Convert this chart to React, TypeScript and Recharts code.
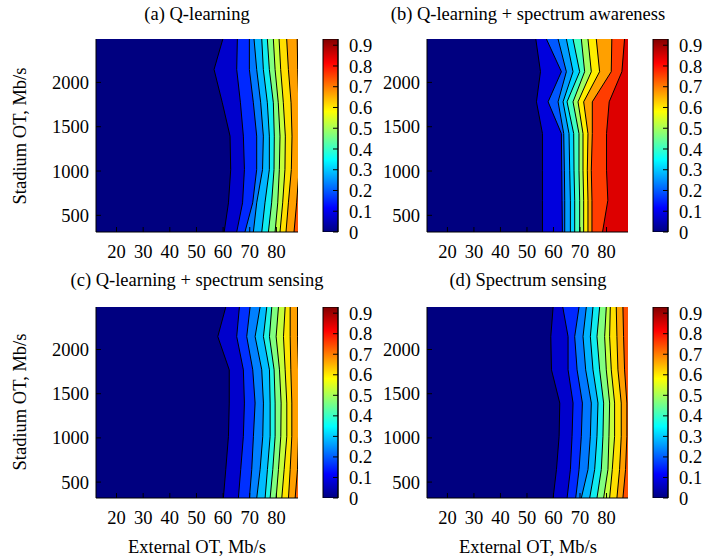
import React from 'react';
import { ComposedChart, Area, Bar, XAxis, YAxis, CartesianGrid } from 'recharts';

// axes
const externalTicks = [20, 30, 40, 50, 60, 70, 80];
const stadiumTicks = [500, 1000, 1500, 2000];
const colorTicks = [0, 0.1, 0.2, 0.3, 0.4, 0.5, 0.6, 0.7, 0.8, 0.9];
const externalRange = [12.3, 88.1];
const colorMax = 0.93;

// Stadium OT values at which the contour positions were read (top -> bottom)
const stadiumRowsTop = [2490, 2146, 1770, 1394, 1017, 641, 312];
const stadiumRowsAware = [2490, 2121, 1781, 1423, 1009, 670, 312];
const stadiumRowsBottom = [2481, 2146, 1770, 1394, 1018, 642, 320];

// External OT position of each contour line, one list per line (left -> right)
const qLearningContours = [
  [59.9, 56.6, 59.7, 62.6, 62.85, 62.0, 60.4],
  [65.35, 65.1, 66.5, 67.6, 68.0, 67.3, 65.1],
  [69.85, 69.85, 71.35, 72.6, 72.6, 71.1, 68.2],
  [71.6, 72.6, 74.1, 75.1, 74.8, 72.6, 71.35],
  [74.5, 75.1, 76.6, 77.35, 77.35, 75.7, 74.5],
  [76.6, 77.35, 78.85, 79.2, 79.1, 78.2, 77.0],
  [78.85, 79.5, 80.7, 81.35, 81.1, 80.5, 79.5],
  [81.0, 81.6, 82.6, 83.35, 83.2, 82.35, 81.35],
  [83.85, 84.5, 85.5, 85.85, 85.6, 84.5, 83.6],
  [87.8, 88.0, 88.4, 88.5, 88.5, 87.6, 86.6],
];

const awarenessContours = [
  [53.33, 55.09, 53.58, 55.84, 55.84, 55.84, 55.84],
  [57.34, 62.98, 57.97, 62.98, 63.11, 63.23, 63.36],
  [61.73, 64.86, 61.73, 63.86, 64.11, 64.24, 64.24],
  [64.86, 67.37, 63.61, 65.86, 66.12, 66.37, 66.37],
  [67.37, 69.87, 65.11, 67.62, 67.74, 68.0, 68.0],
  [70.5, 71.75, 67.37, 69.62, 69.62, 69.87, 69.87],
  [73.0, 74.26, 69.25, 71.13, 71.13, 71.38, 71.38],
  [76.14, 77.39, 71.38, 73.0, 72.76, 73.0, 73.0],
  [82.0, 81.78, 74.64, 74.64, 74.26, 74.51, 74.51],
  [86.8, 85.8, 81.0, 80.0, 80.0, 80.5, 78.5],
];

const qSensingContours = [
  [61.0, 58.0, 62.3, 62.3, 62.0, 61.0, 60.1],
  [66.11, 65.1, 67.6, 67.99, 67.6, 66.6, 65.73],
  [70.12, 68.86, 71.12, 72.0, 71.37, 70.74, 69.87],
  [73.88, 72.0, 74.5, 75.13, 74.88, 73.88, 72.62],
  [76.38, 75.13, 77.39, 77.64, 77.64, 76.63, 75.76],
  [78.26, 77.39, 79.14, 79.52, 79.52, 78.64, 77.64],
  [80.77, 79.89, 81.15, 81.77, 81.65, 80.77, 79.89],
  [83.28, 82.65, 83.28, 83.9, 83.9, 82.9, 82.02],
  [85.16, 85.16, 85.41, 85.78, 85.78, 85.16, 84.53],
  [87.91, 87.91, 88.29, 88.29, 88.29, 87.91, 87.03],
];

const sensingContours = [
  [59.86, 58.99, 59.24, 62.37, 62.12, 61.12, 59.86],
  [63.5, 65.5, 65.5, 67.38, 67.0, 66.38, 65.13],
  [69.64, 68.0, 68.9, 70.9, 70.5, 69.64, 68.38],
  [72.39, 71.14, 72.14, 74.27, 73.9, 73.02, 70.5],
  [74.9, 73.9, 74.9, 76.78, 76.4, 75.53, 73.65],
  [77.41, 76.4, 77.41, 78.91, 78.66, 78.03, 76.4],
  [79.91, 79.29, 79.91, 81.17, 80.92, 80.54, 78.91],
  [81.42, 81.17, 81.79, 83.05, 83.05, 82.17, 81.17],
  [83.67, 83.92, 84.3, 85.55, 85.55, 84.92, 83.92],
  [86.18, 86.43, 86.8, 87.68, 87.68, 87.18, 86.18],
];

// fill of each band, left -> right
const bandsA = ['#000080', '#0000cc', '#0028ff', '#0078ff', '#00b4ff', '#10ecf0', '#80ff80', '#c4ff3c', '#ffe000', '#ffa000', '#ff5000'];
const bandsB = ['#000080', '#0000dd', '#0058ff', '#009cff', '#00d4ff', '#40ffc0', '#a0ff60', '#ffee00', '#ffa000', '#ff3c00', '#dd0000'];
const bandsC = ['#000080', '#0000cc', '#0030ff', '#0080ff', '#00bcff', '#20f4e4', '#80ff80', '#c4ff3c', '#ffe400', '#ffa000', '#ff6000'];

const jet = [
  [0, '#000080'],
  [0.125, '#0000ff'],
  [0.375, '#00ffff'],
  [0.625, '#ffff00'],
  [0.875, '#ff0000'],
  [1, '#800000'],
];

const FONT = 18.5;
const tickStyle = { fontSize: FONT, fill: '#000' };

function Text({ x, y, children, rotate }: any) {
  return (
    <div
      style={{
        position: 'absolute',
        left: x,
        top: y,
        transform: `translate(-50%, -50%)${rotate ? ' rotate(-90deg)' : ''}`,
        whiteSpace: 'nowrap',
        fontSize: FONT,
        lineHeight: 1,
      }}
    >
      {children}
    </div>
  );
}

function Panel({ plot, rows, contours, colors, yRange }: any) {
  const YW = 60;
  const XH = 40;
  const PAD = 5;
  const w = plot.x1 - plot.x0;
  const h = plot.y1 - plot.y0;
  const data = rows.map((y: number, i: number) => {
    const row: any = { y };
    contours.forEach((c: number[], k: number) => {
      row['c' + k] = c[i];
    });
    return row;
  });
  const order = contours.map((_: any, k: number) => contours.length - 1 - k);

  return (
    <div style={{ position: 'absolute', left: plot.x0 - YW, top: plot.y0 - PAD }}>
      <ComposedChart
        layout="vertical"
        width={YW + w + PAD}
        height={PAD + h + XH}
        data={data}
        margin={{ top: PAD, right: PAD, bottom: 0, left: 0 }}
      >
        <CartesianGrid fill={colors[colors.length - 1]} fillOpacity={1} horizontal={false} vertical={false} />
        {order.map((k: number) => (
          <Area
            key={k}
            dataKey={'c' + k}
            type="linear"
            fill={colors[k]}
            fillOpacity={1}
            stroke="#000"
            strokeWidth={1}
            dot={false}
            activeDot={false}
            isAnimationActive={false}
          />
        ))}
        <XAxis
          type="number"
          domain={externalRange}
          allowDataOverflow
          ticks={externalTicks}
          interval={0}
          tickSize={-5}
          tickMargin={18}
          height={XH}
          tick={tickStyle}
          stroke="#000"
        />
        <XAxis
          xAxisId="t"
          orientation="top"
          type="number"
          domain={externalRange}
          allowDataOverflow
          ticks={externalTicks}
          interval={0}
          tickSize={-5}
          tick={false}
          height={0}
          stroke="#000"
        />
        <YAxis
          type="number"
          dataKey="y"
          domain={yRange}
          reversed
          allowDataOverflow
          ticks={stadiumTicks}
          interval={0}
          tickSize={-5}
          tickMargin={12}
          width={YW}
          tick={tickStyle}
          stroke="#000"
        />
        <YAxis
          yAxisId="r"
          orientation="right"
          type="number"
          domain={yRange}
          reversed
          allowDataOverflow
          ticks={stadiumTicks}
          interval={0}
          tickSize={-5}
          tick={false}
          width={0}
          stroke="#000"
        />
      </ComposedChart>
    </div>
  );
}

function ColorBar({ x0, x1, y0, y1, gid }: any) {
  const PAD = 14;
  const RW = 45;
  return (
    <div style={{ position: 'absolute', left: x0 - 5, top: y0 - PAD }}>
      <ComposedChart
        width={5 + (x1 - x0) + RW}
        height={PAD + (y1 - y0) + PAD}
        data={[{ k: 'bar', v: colorMax }]}
        margin={{ top: PAD, right: 0, bottom: PAD, left: 5 }}
        barCategoryGap={0}
      >
        <defs>
          <linearGradient id={gid} x1="0" y1="1" x2="0" y2="0">
            {jet.map(([o, c]: any) => (
              <stop key={o} offset={o} stopColor={c} />
            ))}
          </linearGradient>
        </defs>
        <Bar dataKey="v" fill={`url(#${gid})`} stroke="#000" strokeWidth={1} isAnimationActive={false} />
        <XAxis dataKey="k" hide />
        <YAxis
          domain={[0, colorMax]}
          allowDataOverflow
          ticks={colorTicks}
          interval={0}
          tickSize={-5}
          tick={false}
          width={0}
          stroke="#000"
        />
        <YAxis
          yAxisId="r"
          orientation="right"
          domain={[0, colorMax]}
          allowDataOverflow
          ticks={colorTicks}
          interval={0}
          tickSize={-5}
          tickMargin={16}
          width={RW}
          tick={tickStyle}
          stroke="#000"
        />
      </ComposedChart>
    </div>
  );
}

export default function App() {
  const pa = { x0: 96, x1: 298, y0: 39, y1: 232 };
  const pb = { x0: 427, x1: 628, y0: 39, y1: 232 };
  const pc = { x0: 96, x1: 298, y0: 307, y1: 498 };
  const pd = { x0: 427, x1: 628, y0: 307, y1: 498 };
  const topRange = [312, 2490];
  const bottomRange = [320, 2481];

  return (
    <div
      style={{
        position: 'absolute',
        left: 0,
        top: 0,
        width: 723,
        height: 559,
        background: '#fff',
        fontFamily: '"Liberation Serif", "Times New Roman", serif',
        color: '#000',
      }}
    >
      <Panel plot={pa} rows={stadiumRowsTop} contours={qLearningContours} colors={bandsA} yRange={topRange} />
      <Panel plot={pb} rows={stadiumRowsAware} contours={awarenessContours} colors={bandsB} yRange={topRange} />
      <Panel plot={pc} rows={stadiumRowsBottom} contours={qSensingContours} colors={bandsC} yRange={bottomRange} />
      <Panel plot={pd} rows={stadiumRowsBottom} contours={sensingContours} colors={bandsA} yRange={bottomRange} />

      <ColorBar x0={323} x1={338} y0={39} y1={232} gid="jetA" />
      <ColorBar x0={653} x1={668} y0={39} y1={232} gid="jetB" />
      <ColorBar x0={323} x1={338} y0={307} y1={498} gid="jetC" />
      <ColorBar x0={653} x1={668} y0={307} y1={498} gid="jetD" />

      <Text x={197} y={14}>(a) Q-learning</Text>
      <Text x={528} y={14}>(b) Q-learning + spectrum awareness</Text>
      <Text x={197} y={280}>(c) Q-learning + spectrum sensing</Text>
      <Text x={528} y={280}>(d) Spectrum sensing</Text>
      <Text x={20} y={136} rotate>Stadium OT, Mb/s</Text>
      <Text x={20} y={402} rotate>Stadium OT, Mb/s</Text>
      <Text x={197} y={547}>External OT, Mb/s</Text>
      <Text x={528} y={547}>External OT, Mb/s</Text>
    </div>
  );
}
